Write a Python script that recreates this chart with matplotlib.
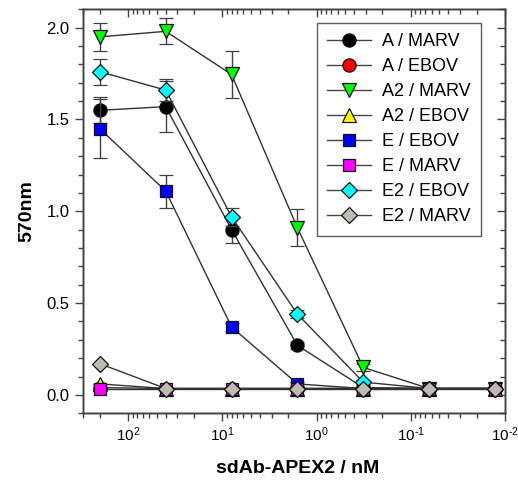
import matplotlib
matplotlib.use("Agg")
import matplotlib.pyplot as plt
from matplotlib.ticker import LogLocator, MultipleLocator, NullFormatter, FuncFormatter
from matplotlib.lines import Line2D
import numpy as np

plt.rcParams['font.family'] = ['Liberation Sans', 'DejaVu Sans']
plt.rcParams['mathtext.fontset'] = 'custom'
plt.rcParams['mathtext.rm'] = 'Liberation Sans'
plt.rcParams['mathtext.it'] = 'Liberation Sans:italic'
plt.rcParams['mathtext.bf'] = 'Liberation Sans:bold'

conc = [200, 40, 8, 1.6, 0.32, 0.064, 0.0128]

labels = ["A / MARV", "A / EBOV", "A2 / MARV", "A2 / EBOV",
          "E / EBOV", "E / MARV", "E2 / EBOV", "E2 / MARV"]

a_marv = [1.55, 1.57, 0.90, 0.27, 0.04, 0.035, 0.035]
a_marv_err = [0.07, 0.14, 0.075, 0.02, 0.01, 0.0, 0.0]
a_ebov = [0.04, 0.035, 0.035, 0.035, 0.035, 0.035, 0.035]
a_ebov_err = [0.0, 0.0, 0.0, 0.0, 0.0, 0.0, 0.0]
a2_marv = [1.95, 1.98, 1.745, 0.91, 0.15, 0.035, 0.035]
a2_marv_err = [0.075, 0.07, 0.13, 0.10, 0.02, 0.0, 0.0]
a2_ebov = [0.06, 0.035, 0.035, 0.035, 0.035, 0.035, 0.035]
a2_ebov_err = [0.0, 0.0, 0.0, 0.0, 0.0, 0.0, 0.0]
e_ebov = [1.45, 1.11, 0.37, 0.06, 0.035, 0.035, 0.035]
e_ebov_err = [0.16, 0.09, 0.02, 0.01, 0.0, 0.0, 0.0]
e_marv = [0.035, 0.035, 0.035, 0.035, 0.035, 0.035, 0.035]
e_marv_err = [0.0, 0.0, 0.0, 0.0, 0.0, 0.0, 0.0]
e2_ebov = [1.76, 1.66, 0.97, 0.44, 0.07, 0.035, 0.035]
e2_ebov_err = [0.07, 0.06, 0.05, 0.02, 0.01, 0.0, 0.0]
e2_marv = [0.17, 0.035, 0.035, 0.035, 0.035, 0.035, 0.035]
e2_marv_err = [0.0, 0.0, 0.0, 0.0, 0.0, 0.0, 0.0]

series = [a_marv, a_ebov, a2_marv, a2_ebov, e_ebov, e_marv, e2_ebov, e2_marv]
errors = [a_marv_err, a_ebov_err, a2_marv_err, a2_ebov_err,
          e_ebov_err, e_marv_err, e2_ebov_err, e2_marv_err]
colors = ['#000000', '#ff0000', '#00ff00', '#ffff00',
          '#0000ff', '#ff00ff', '#00ffff', '#bcbcb0']
markers = ['o', 'o', 'v', '^', 's', 's', 'D', 'D']
msizes = [9.5, 9.5, 10, 10, 9, 9, 8.5, 8.5]

fig = plt.figure(figsize=(5.18, 4.82), dpi=100)
ax = fig.add_axes([0.1608, 0.1425, 0.975 - 0.1608, 0.9807 - 0.1425])

handles = []
for i, (y, e) in enumerate(zip(series, errors)):
    ax.errorbar(conc, y, yerr=e, color='#333333', lw=1.0,
                ecolor='#404040', elinewidth=1.0, capsize=5, capthick=1.0,
                marker=markers[i], ms=msizes[i], mfc=colors[i], mec='#111111',
                mew=0.9, zorder=2 + i)
    handles.append(Line2D([], [], color='#444444', lw=1.0, marker=markers[i],
                          ms=msizes[i], mfc=colors[i], mec='#111111', mew=0.9,
                          label=labels[i]))


def log_fmt(v, pos):
    e = int(round(np.log10(v)))
    s = str(e).replace('-', '\u2010')
    return r'$\mathregular{10^{%s}}$' % s


ax.set_xscale('log')
ax.set_xlim(300, 0.01)
ax.set_ylim(-0.1, 2.1)
ax.yaxis.set_major_locator(MultipleLocator(0.5))
ax.yaxis.set_minor_locator(MultipleLocator(0.1))
ax.xaxis.set_major_locator(LogLocator(base=10, numticks=20))
ax.xaxis.set_major_formatter(FuncFormatter(log_fmt))
ax.xaxis.set_minor_locator(LogLocator(base=10, subs=np.arange(2, 10), numticks=20))
ax.xaxis.set_minor_formatter(NullFormatter())

for sp in ax.spines.values():
    sp.set_color('#444444')
    sp.set_linewidth(1.0)

ax.tick_params(axis='both', which='major', direction='out', length=6, width=1,
               color='#444444', labelsize=12, pad=4, top=False, right=False)
ax.tick_params(axis='both', which='minor', direction='out', length=3.5, width=1,
               color='#444444', top=False, right=False)
ax.tick_params(axis='x', which='major', labelsize=11, pad=3)

# inward ticks on top and right
axt = ax.twiny()
axt.set_xscale('log')
axt.set_xlim(ax.get_xlim())
axt.xaxis.set_major_locator(LogLocator(base=10, numticks=20))
axt.xaxis.set_minor_locator(LogLocator(base=10, subs=np.arange(2, 10), numticks=20))
axt.tick_params(axis='x', which='major', direction='in', length=6, width=1,
                color='#444444', labeltop=False)
axt.tick_params(axis='x', which='minor', direction='in', length=3.5, width=1,
                color='#444444', labeltop=False)
axr = ax.twinx()
axr.set_ylim(ax.get_ylim())
axr.yaxis.set_major_locator(MultipleLocator(0.5))
axr.yaxis.set_minor_locator(MultipleLocator(0.1))
axr.tick_params(axis='y', which='major', direction='in', length=6, width=1,
                color='#444444', labelright=False)
axr.tick_params(axis='y', which='minor', direction='in', length=3.5, width=1,
                color='#444444', labelright=False)
for a in (axt, axr):
    for sp in a.spines.values():
        sp.set_color('#444444')
        sp.set_linewidth(1.0)

ax.set_xlabel('sdAb-APEX2 / nM', fontsize=14, fontweight='bold')
ax.set_ylabel('570nm', fontsize=14, fontweight='bold')
ax.xaxis.set_label_coords(0.509, -0.116)
ax.yaxis.set_label_coords(-0.114, 0.5)

leg = axr.legend(handles=handles, loc='upper left', bbox_to_anchor=(0.553, 0.967),
                 borderaxespad=0, fontsize=13, frameon=True, fancybox=False,
                 handlelength=2.4, handletextpad=0.6, labelspacing=0.44,
                 borderpad=0.6)
leg.get_frame().set_edgecolor('#333333')
leg.get_frame().set_linewidth(1.0)
leg.set_zorder(20)

fig.savefig('out.png', dpi=100)
